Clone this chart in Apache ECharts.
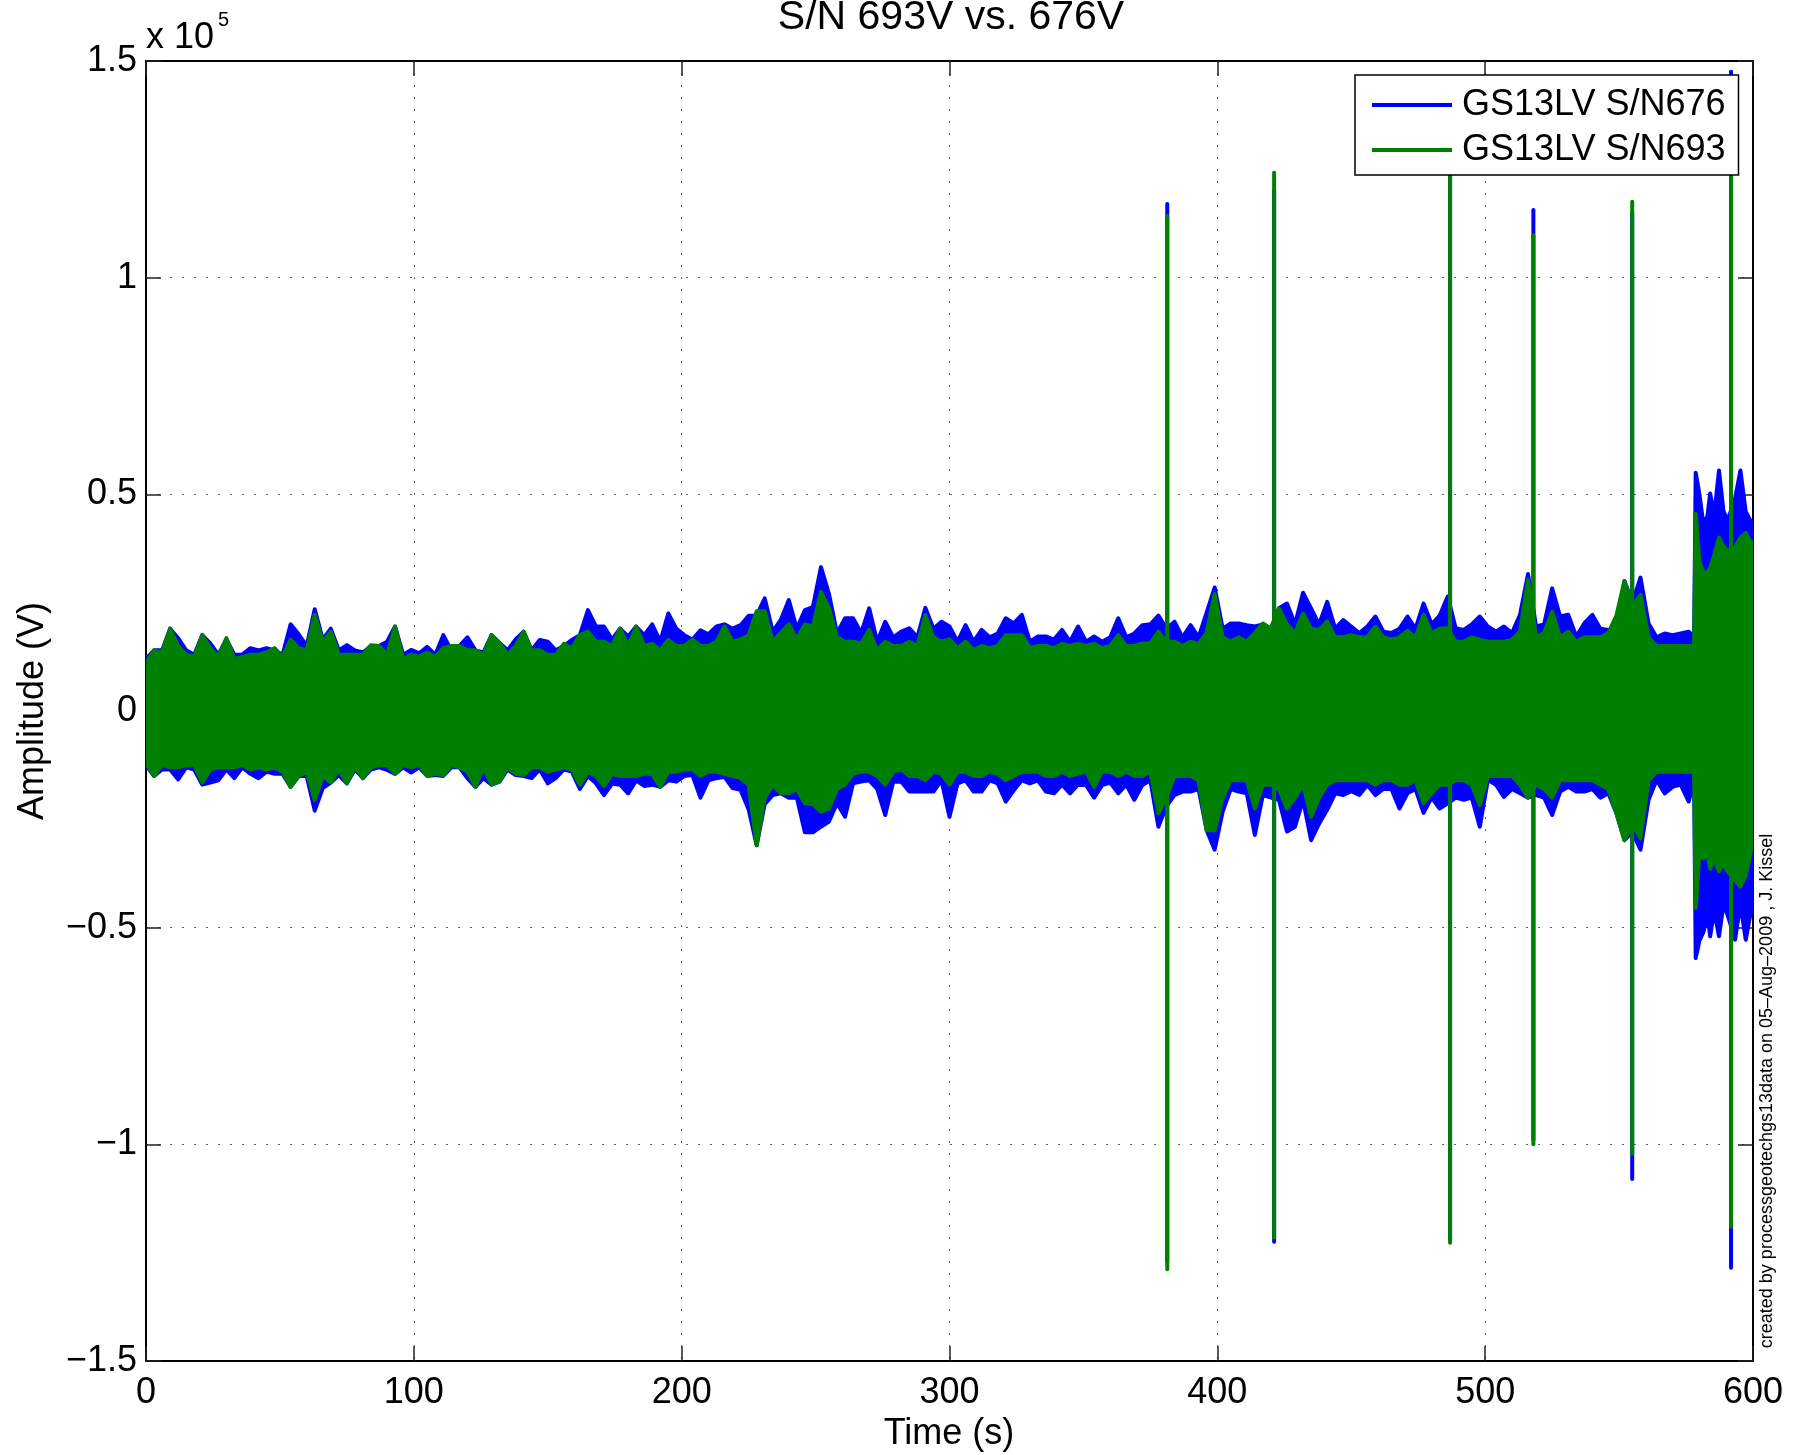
<!DOCTYPE html>
<html><head><meta charset="utf-8">
<script src="https://cdn.jsdelivr.net/npm/echarts@6/dist/echarts.min.js"></script>
<style>html,body{margin:0;padding:0;background:#fff}#c{width:1804px;height:1455px}</style>
</head><body><div id="c"></div>
<script>
// Time samples (s) of the envelope
const times = [
0,3,6,9,12,15,18,21,24,27,
30,33,36,39,42,45,48,51,54,57,
60,63,66,69,72,75,78,81,84,87,
90,93,96,99,102,105,108,111,114,117,
120,123,126,129,132,135,138,141,144,147,
150,153,156,159,162,165,168,171,174,177,
180,183,186,189,192,195,198,201,204,207,
210,213,216,219,222,225,228,231,234,237,
240,243,246,249,252,255,258,261,264,267,
270,273,276,279,282,285,288,291,294,297,
300,303,306,309,312,315,318,321,324,327,
330,333,336,339,342,345,348,351,354,357,
360,363,366,369,372,375,378,381,384,387,
390,393,396,399,402,405,408,411,414,417,
420,423,426,429,432,435,438,441,444,447,
450,453,456,459,462,465,468,471,474,477,
480,483,486,489,492,495,498,501,504,507,
510,513,516,519,522,525,528,531,534,537,
540,543,546,549,552,555,558,561,564,567,
570,573,576,578,578.6,580,581.5,583,584,585.5,
587.3,589,590.5,593.3,595.3,597.3,599,600];

// Amplitudes in units of 1e5 V
const blueUpper = [
.12,.14,.14,.19,.168,.14,.13,.175,.156,.13,
.165,.13,.13,.145,.14,.145,.14,.13,.2,.177,
.15,.235,.165,.19,.14,.152,.14,.135,.15,.15,
.16,.195,.13,.141,.133,.148,.13,.175,.14,.15,
.17,.14,.135,.175,.157,.14,.165,.183,.14,.164,
.16,.14,.15,.164,.175,.233,.195,.195,.165,.19,
.172,.195,.175,.2,.16,.225,.19,.175,.165,.186,
.177,.195,.2,.19,.198,.22,.22,.26,.183,.21,
.256,.19,.233,.24,.332,.27,.179,.214,.214,.18,
.237,.16,.206,.17,.183,.191,.17,.238,.19,.206,
.195,.16,.198,.16,.187,.17,.179,.214,.202,.222,
.16,.172,.172,.165,.187,.16,.195,.16,.172,.16,
.17,.214,.17,.179,.198,.2,.22,.19,.206,.17,
.198,.17,.227,.285,.19,.202,.202,.198,.195,.2,
.19,.237,.248,.2,.273,.237,.2,.252,.19,.21,
.195,.18,.195,.218,.183,.18,.19,.218,.19,.248,
.2,.22,.264,.191,.187,.2,.218,.195,.183,.195,
.18,.222,.316,.195,.2,.283,.218,.222,.172,.202,
.222,.19,.187,.195,.3,.25,.308,.202,.17,.179,
.175,.179,.183,.17,.55,.5,.43,.45,.502,.45,
.555,.46,.44,.49,.555,.46,.44,.43];

const blueLower = [
-.125,-.15,-.135,-.135,-.158,-.13,-.135,-.17,-.165,-.16,
-.135,-.155,-.13,-.145,-.155,-.14,-.145,-.145,-.175,-.15,
-.15,-.23,-.178,-.165,-.148,-.167,-.135,-.155,-.135,-.13,
-.136,-.145,-.13,-.142,-.13,-.15,-.148,-.15,-.13,-.13,
-.155,-.175,-.155,-.17,-.163,-.135,-.148,-.15,-.155,-.135,
-.167,-.155,-.135,-.14,-.18,-.15,-.167,-.194,-.168,-.17,
-.19,-.16,-.173,-.17,-.175,-.16,-.163,-.15,-.148,-.2,
-.16,-.155,-.152,-.178,-.182,-.227,-.31,-.215,-.194,-.19,
-.2,-.2,-.28,-.28,-.267,-.255,-.213,-.244,-.167,-.163,
-.16,-.18,-.24,-.163,-.163,-.186,-.186,-.186,-.186,-.16,
-.244,-.167,-.16,-.186,-.186,-.16,-.167,-.209,-.183,-.16,
-.167,-.16,-.186,-.19,-.17,-.19,-.17,-.171,-.2,-.171,
-.165,-.19,-.17,-.205,-.171,-.16,-.267,-.22,-.194,-.186,
-.186,-.18,-.275,-.32,-.232,-.18,-.186,-.19,-.286,-.194,
-.2,-.205,-.278,-.267,-.205,-.298,-.26,-.228,-.19,-.194,
-.185,-.194,-.171,-.194,-.18,-.18,-.225,-.19,-.18,-.235,
-.2,-.225,-.213,-.2,-.205,-.2,-.267,-.159,-.17,-.198,
-.18,-.19,-.2,-.194,-.2,-.24,-.186,-.175,-.186,-.186,
-.18,-.2,-.19,-.236,-.298,-.28,-.32,-.205,-.159,-.19,
-.175,-.17,-.209,-.16,-.57,-.53,-.51,-.47,-.52,-.46,
-.52,-.446,-.47,-.528,-.446,-.528,-.47,-.45];

const greenUpper = [
.11,.14,.135,.19,.15,.13,.125,.175,.145,.125,
.168,.12,.125,.13,.13,.135,.145,.125,.165,.145,
.14,.222,.16,.183,.13,.13,.13,.13,.152,.15,
.13,.195,.12,.13,.125,.135,.125,.145,.15,.15,
.14,.14,.13,.175,.157,.13,.15,.183,.14,.14,
.13,.13,.155,.145,.175,.183,.16,.16,.15,.19,
.15,.195,.15,.155,.14,.164,.15,.15,.165,.15,
.15,.16,.195,.16,.165,.175,.23,.23,.16,.18,
.2,.165,.2,.195,.275,.237,.17,.16,.16,.155,
.187,.14,.16,.15,.15,.16,.15,.222,.17,.16,
.165,.145,.16,.14,.15,.145,.15,.175,.175,.175,
.145,.15,.15,.145,.155,.15,.155,.15,.155,.145,
.15,.175,.15,.15,.156,.156,.183,.16,.16,.15,
.16,.155,.18,.27,.17,.16,.17,.16,.18,.202,
.19,.237,.2,.18,.225,.19,.187,.206,.17,.17,
.175,.17,.17,.195,.17,.165,.17,.185,.17,.222,
.18,.19,.191,.16,.16,.17,.164,.16,.16,.16,
.164,.183,.302,.17,.18,.229,.17,.183,.16,.17,
.17,.17,.18,.22,.3,.24,.268,.17,.15,.15,
.15,.15,.15,.15,.455,.345,.32,.32,.33,.36,
.4,.38,.37,.378,.4,.411,.39,.39];

const greenLower = [
-.12,-.15,-.125,-.13,-.13,-.125,-.125,-.165,-.135,-.13,
-.13,-.13,-.125,-.135,-.13,-.135,-.13,-.14,-.175,-.15,
-.14,-.205,-.15,-.165,-.135,-.167,-.13,-.155,-.13,-.125,
-.125,-.145,-.125,-.13,-.125,-.15,-.145,-.148,-.125,-.13,
-.14,-.175,-.13,-.17,-.163,-.13,-.145,-.148,-.13,-.13,
-.14,-.135,-.13,-.135,-.17,-.14,-.15,-.173,-.145,-.15,
-.15,-.15,-.145,-.145,-.175,-.14,-.14,-.135,-.135,-.15,
-.14,-.14,-.145,-.15,-.155,-.17,-.31,-.2,-.17,-.19,
-.19,-.18,-.213,-.215,-.232,-.225,-.18,-.17,-.145,-.14,
-.14,-.15,-.17,-.14,-.135,-.15,-.15,-.16,-.14,-.145,
-.17,-.14,-.14,-.15,-.15,-.14,-.145,-.16,-.15,-.14,
-.14,-.14,-.15,-.15,-.14,-.15,-.145,-.14,-.175,-.14,
-.14,-.15,-.14,-.15,-.15,-.14,-.236,-.2,-.15,-.15,
-.15,-.16,-.275,-.275,-.2,-.16,-.16,-.16,-.225,-.17,
-.17,-.18,-.225,-.2,-.17,-.244,-.2,-.17,-.16,-.16,
-.16,-.16,-.16,-.17,-.16,-.16,-.17,-.17,-.16,-.213,
-.19,-.17,-.17,-.16,-.16,-.17,-.217,-.15,-.15,-.15,
-.15,-.17,-.2,-.17,-.18,-.2,-.16,-.16,-.16,-.16,
-.16,-.17,-.18,-.236,-.298,-.26,-.294,-.16,-.14,-.14,
-.14,-.14,-.14,-.14,-.454,-.33,-.34,-.33,-.364,-.34,
-.37,-.35,-.37,-.39,-.405,-.38,-.33,-.3];

// Isolated transients (s) and their extremes (1e5 V)
const spikeTimes     = [381.3, 421.2, 486.9, 518.0, 554.9, 591.8];
const blueSpikeHigh  = [1.17, 1.2, 1.32, 1.156, 1.15, 1.475];
const blueSpikeLow   = [-1.27, -1.225, -1.22, -0.99, -1.08, -1.285];
const greenSpikeHigh = [1.142, 1.242, 1.235, 1.098, 1.175, 1.3];
const greenSpikeLow  = [-1.288, -1.215, -1.227, -1.0, -1.022, -1.19];

const xTicks = [0, 100, 200, 300, 400, 500, 600];
const yTicks = [-1.5, -1, -0.5, 0, 0.5, 1, 1.5];
const seriesNames = ['GS13LV S/N676', 'GS13LV S/N693'];

const FONT = 'Liberation Sans, Arial, Helvetica, sans-serif';
const BLUE = '#0000ff', GREEN = '#008000';
const LW = 4;

// Envelope band: one polygon built through the axis scales (api.coord)
function band(name, color, lower, upper) {
  return {
    type: 'custom', name: name, silent: true, animation: false, clip: true, z: 2,
    itemStyle: {color: color},
    data: times.map((t, i) => [t, lower[i], upper[i]]),
    encode: {x: 0, y: [1, 2]},
    renderItem: function (params, api) {
      if (params.dataIndexInside !== 0) return null;
      const n = params.dataInsideLength;
      const top = [], bot = [];
      for (let j = 0; j < n; j++) {
        const t = api.value(0, j);
        top.push(api.coord([t, api.value(2, j)]));
        bot.push(api.coord([t, api.value(1, j)]));
      }
      const pts = top.concat(bot.reverse());
      return {type: 'polygon', shape: {points: pts},
              style: {fill: color, stroke: color, lineWidth: LW, lineJoin: 'round'}};
    }
  };
}
function spikes(id, color, lows, highs) {
  return {
    type: 'custom', name: id, silent: true, animation: false, clip: true, z: 2,
    itemStyle: {color: color},
    data: spikeTimes.map((t, i) => [t, lows[i], highs[i]]),
    encode: {x: 0, y: [1, 2]},
    renderItem: function (params, api) {
      const a = api.coord([api.value(0), api.value(1)]);
      const b = api.coord([api.value(0), api.value(2)]);
      return {type: 'line', shape: {x1: a[0], y1: a[1], x2: b[0], y2: b[1]},
              style: {stroke: color, lineWidth: LW, lineCap: 'round'}};
    }
  };
}

const chart = echarts.init(document.getElementById('c'), null, {renderer: 'canvas', width: 1804, height: 1455});

const gridLine = {show: true, lineStyle: {type: [2, 10], color: '#666', width: 1}};
const axLine = {show: true, onZero: false, lineStyle: {color: '#000', width: 2}};
const tick = {show: true, inside: true, length: 15, lineStyle: {color: '#222', width: 1.5}};
const fmtY = v => (v === 0 ? '0' : (v < 0 ? '\u2212' : '') + String(Math.abs(v)));

chart.setOption({
  backgroundColor: '#fff',
  animation: false,
  textStyle: {fontFamily: FONT},
  grid: {left: 146, right: 51, top: 61, bottom: 94, containLabel: false},
  xAxis: [
    {type: 'value', min: xTicks[0], max: xTicks[xTicks.length - 1], interval: 100, position: 'bottom',
     axisLine: axLine, axisTick: tick, splitLine: gridLine,
     axisLabel: {show: true, fontSize: 36, color: '#000', fontFamily: FONT, margin: 14,
                 formatter: v => String(v)}},
    {type: 'value', min: xTicks[0], max: xTicks[xTicks.length - 1], interval: 100, position: 'top',
     axisLine: axLine, axisTick: tick, splitLine: {show: false}, axisLabel: {show: false}}
  ],
  yAxis: [
    {type: 'value', min: yTicks[0], max: yTicks[yTicks.length - 1], interval: 0.5, position: 'left',
     axisLine: axLine, axisTick: tick, splitLine: gridLine,
     axisLabel: {show: true, fontSize: 36, color: '#000', fontFamily: FONT, margin: 9, formatter: fmtY}},
    {type: 'value', min: yTicks[0], max: yTicks[yTicks.length - 1], interval: 0.5, position: 'right',
     axisLine: axLine, axisTick: tick, splitLine: {show: false}, axisLabel: {show: false}}
  ],
  legend: {
    show: true, orient: 'vertical', left: 1355, top: 75,
    padding: [12, 13, 7, 17], itemGap: 9, itemWidth: 80, itemHeight: 4,
    borderColor: '#000', borderWidth: 1.5, backgroundColor: '#fff', borderRadius: 0,
    selectedMode: false,
    textStyle: {fontSize: 36, color: '#000', fontFamily: FONT, padding: [0, 0, 0, 5]},
    data: [
      {name: seriesNames[0], icon: 'rect', itemStyle: {color: BLUE}},
      {name: seriesNames[1], icon: 'rect', itemStyle: {color: GREEN}}
    ]
  },
  series: [
    band(seriesNames[0], BLUE, blueLower, blueUpper),
    spikes('blue-spikes', BLUE, blueSpikeLow, blueSpikeHigh),
    band(seriesNames[1], GREEN, greenLower, greenUpper),
    spikes('green-spikes', GREEN, greenSpikeLow, greenSpikeHigh)
  ],
  graphic: [
    {type: 'text', x: 951, y: 18, silent: true,
     style: {text: 'S/N 693V vs. 676V', font: '41px ' + FONT, fill: '#000', align: 'center', verticalAlign: 'middle'}},
    {type: 'text', x: 146, y: 38, silent: true,
     style: {text: 'x 10', font: '36px ' + FONT, fill: '#000', align: 'left', verticalAlign: 'middle'}},
    {type: 'text', x: 218, y: 20, silent: true,
     style: {text: '5', font: '20px ' + FONT, fill: '#000', align: 'left', verticalAlign: 'middle'}},
    {type: 'text', x: 949, y: 1434, silent: true,
     style: {text: 'Time (s)', font: '36px ' + FONT, fill: '#000', align: 'center', verticalAlign: 'middle'}},
    {type: 'text', x: 33, y: 711, rotation: Math.PI / 2, silent: true,
     style: {text: 'Amplitude (V)', font: '36px ' + FONT, fill: '#000', align: 'center', verticalAlign: 'middle'}},
    {type: 'text', x: 1767, y: 1091, rotation: Math.PI / 2, silent: true,
     style: {text: 'created by processgeotechgs13data on 05\u2013Aug\u20132009 , J. Kissel', font: '18px ' + FONT,
             fill: '#000', align: 'center', verticalAlign: 'middle'}}
  ]
});
</script>
</body></html>
